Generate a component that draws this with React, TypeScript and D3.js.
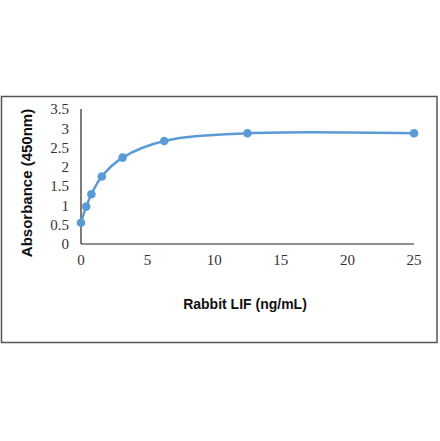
import React, { useEffect, useRef } from 'react';
import * as d3 from 'd3';

// Standard curve: Rabbit LIF concentration vs absorbance
const concentrations = [0, 0.39, 0.78, 1.56, 3.125, 6.25, 12.5, 25];
const absorbance = [0.55, 0.97, 1.29, 1.75, 2.24, 2.67, 2.87, 2.87];
const xTicks = [0, 5, 10, 15, 20, 25];
const yTicks = [0, 0.5, 1, 1.5, 2, 2.5, 3, 3.5];

const W = 440;
const H = 441;
const lineColor = '#5b9bd5';

const App: React.FC = () => {
  const ref = useRef<SVGSVGElement>(null);

  useEffect(() => {
    if (!ref.current) return;
    const svg = d3.select(ref.current);
    svg.selectAll('*').remove();

    // outer frame
    svg.append('rect')
      .attr('x', 1.5)
      .attr('y', 96.5)
      .attr('width', 435.5)
      .attr('height', 246)
      .attr('fill', 'white')
      .attr('stroke', '#555')
      .attr('stroke-width', 1.5);

    const x = d3.scaleLinear().domain([0, 25]).range([81, 414]);
    const y = d3.scaleLinear().domain([0, 3.5]).range([244, 109]);

    // axes lines (no tick marks)
    svg.append('line')
      .attr('x1', x(0)).attr('x2', x(25))
      .attr('y1', y(0)).attr('y2', y(0))
      .attr('stroke', '#222').attr('stroke-width', 1.2);
    svg.append('line')
      .attr('x1', x(0)).attr('x2', x(0))
      .attr('y1', y(0)).attr('y2', y(3.5))
      .attr('stroke', '#222').attr('stroke-width', 1.2);

    // tick labels
    svg.selectAll('.ytick')
      .data(yTicks)
      .enter()
      .append('text')
      .attr('x', 69)
      .attr('y', (d: number) => y(d))
      .attr('dy', '0.35em')
      .attr('text-anchor', 'end')
      .attr('font-family', '"Liberation Serif", serif')
      .attr('font-size', '15px')
      .attr('fill', '#333')
      .text((d: number) => String(d));

    svg.selectAll('.xtick')
      .data(xTicks)
      .enter()
      .append('text')
      .attr('x', (d: number) => x(d))
      .attr('y', 265)
      .attr('text-anchor', 'middle')
      .attr('font-family', '"Liberation Serif", serif')
      .attr('font-size', '15px')
      .attr('fill', '#333')
      .text((d: number) => String(d));

    // axis titles
    svg.append('text')
      .attr('x', 245)
      .attr('y', 309)
      .attr('text-anchor', 'middle')
      .attr('font-family', '"Liberation Sans", Arial, sans-serif')
      .attr('font-weight', 'bold')
      .attr('font-size', '14px')
      .attr('fill', '#111')
      .text('Rabbit LIF (ng/mL)');

    svg.append('text')
      .attr('transform', 'translate(32,183) rotate(-90)')
      .attr('text-anchor', 'middle')
      .attr('font-family', '"Liberation Sans", Arial, sans-serif')
      .attr('font-weight', 'bold')
      .attr('font-size', '15px')
      .attr('fill', '#111')
      .text('Absorbance (450nm)');

    const data = concentrations.map((c, i) => [c, absorbance[i]] as [number, number]);

    const line = d3.line<[number, number]>()
      .x((d) => x(d[0]))
      .y((d) => y(d[1]))
      .curve(d3.curveCatmullRom.alpha(0.5));

    svg.append('path')
      .datum(data)
      .attr('fill', 'none')
      .attr('stroke', lineColor)
      .attr('stroke-width', 2.5)
      .attr('d', line);

    svg.selectAll('.point')
      .data(data)
      .enter()
      .append('circle')
      .attr('cx', (d: [number, number]) => x(d[0]))
      .attr('cy', (d: [number, number]) => y(d[1]))
      .attr('r', 4.3)
      .attr('fill', lineColor);
  }, []);

  return (
    <svg
      ref={ref}
      width={W}
      height={H}
      style={{ position: 'absolute', left: 0, top: 0, background: 'white' }}
    />
  );
};

export default App;
